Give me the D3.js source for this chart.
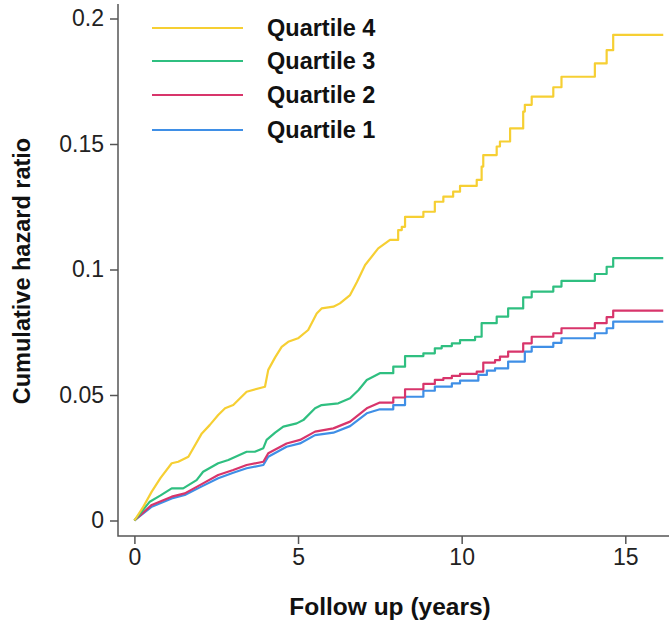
<!DOCTYPE html>
<html>
<head>
<meta charset="utf-8">
<script src="https://cdn.jsdelivr.net/npm/d3@7"></script>
<style>
  html, body { margin: 0; padding: 0; background: #fff; }
  svg { display: block; }
  .tick text { font-family: "Liberation Sans", Arial, sans-serif; font-size: 23px; fill: #222; }
  .title { font-family: "Liberation Sans", Arial, sans-serif; font-weight: bold; fill: #111; }
  .legend text { font-family: "Liberation Sans", Arial, sans-serif; font-weight: bold; font-size: 23.5px; fill: #111; }
</style>
</head>
<body>
<svg id="chart" width="669" height="630"></svg>
<script>
// ── Data ──────────────────────────────────────────────────────────────────

const seriesNames = ['Quartile 4', 'Quartile 3', 'Quartile 2', 'Quartile 1'];
const seriesColors = ['#f6cf33', '#2fbf80', '#d8356b', '#3f8fe6'];

const xTicks = [0, 5, 10, 15];
const yTicks = [0, 0.05, 0.1, 0.15, 0.2];
const yTickLabels = ['0', '0.05', '0.1', '0.15', '0.2'];

// [years, cumulative hazard]
const q4 = [
  [0, 0], [0.25, 0.005], [0.53, 0.0115], [0.8, 0.017], [1.14, 0.0228], [1.34, 0.0234], [1.65, 0.0254],
  [2.06, 0.0347], [2.3, 0.038], [2.56, 0.042], [2.77, 0.0447], [3.02, 0.046], [3.43, 0.0513],
  [3.99, 0.0533], [4.09, 0.06], [4.3, 0.065], [4.5, 0.0692], [4.7, 0.0712], [5.0, 0.0726],
  [5.31, 0.0759], [5.57, 0.0825], [5.72, 0.0845], [6.08, 0.0852], [6.28, 0.0865], [6.59, 0.0898],
  [6.8, 0.095], [7.05, 0.1018], [7.45, 0.1084], [7.81, 0.1118], [8.06, 0.1157], [8.17, 0.117],
  [8.27, 0.121], [8.83, 0.123], [9.18, 0.127], [9.44, 0.129], [9.74, 0.131], [9.95, 0.1333],
  [10.46, 0.1357], [10.61, 0.141], [10.66, 0.1456], [11.07, 0.149], [11.17, 0.151], [11.48, 0.1562],
  [11.88, 0.1629], [11.93, 0.1656], [12.14, 0.1689], [12.8, 0.1726], [13.05, 0.1768],
  [14.07, 0.1821], [14.43, 0.1874], [14.63, 0.1935], [16.16, 0.1935]
];
const q3 = [
  [0, 0], [0.47, 0.0075], [0.8, 0.01], [1.14, 0.0128], [1.49, 0.0128], [1.9, 0.0161], [2.1, 0.0194],
  [2.56, 0.0228], [2.87, 0.0241], [3.43, 0.0274], [3.68, 0.0274], [3.94, 0.0288], [4.04, 0.0321],
  [4.3, 0.035], [4.55, 0.0374], [4.96, 0.0387], [5.16, 0.04], [5.52, 0.0447], [5.72, 0.046],
  [6.23, 0.0467], [6.59, 0.0487], [6.85, 0.052], [7.1, 0.056], [7.5, 0.0587], [7.91, 0.0613],
  [8.27, 0.0655], [8.83, 0.0666], [9.18, 0.0686], [9.39, 0.0695], [9.7, 0.0706], [9.95, 0.0719],
  [10.41, 0.0732], [10.61, 0.0786], [11.07, 0.0812], [11.42, 0.0845], [11.88, 0.0889],
  [12.14, 0.0912], [12.8, 0.0932], [13.05, 0.0955], [14.07, 0.0982], [14.43, 0.1011],
  [14.63, 0.1045], [16.16, 0.1045]
];
const q2 = [
  [0, 0], [0.53, 0.0062], [1.14, 0.0095], [1.54, 0.0108], [2.0, 0.0141], [2.56, 0.0181],
  [3.02, 0.0201], [3.43, 0.0221], [3.94, 0.0234], [4.09, 0.0268], [4.65, 0.0307], [5.06, 0.0321],
  [5.52, 0.0354], [6.08, 0.0367], [6.59, 0.0394], [7.1, 0.0447], [7.5, 0.047], [7.91, 0.049],
  [8.27, 0.0523], [8.83, 0.0544], [9.18, 0.056], [9.44, 0.0567], [9.7, 0.0576], [9.95, 0.0584],
  [10.46, 0.0593], [10.66, 0.0629], [11.02, 0.0639], [11.17, 0.0653], [11.42, 0.0673],
  [11.88, 0.0706], [12.14, 0.0732], [12.8, 0.0746], [13.05, 0.0766], [14.07, 0.0786],
  [14.43, 0.081], [14.63, 0.0836], [16.16, 0.0836]
];
const q1 = [
  [0, 0], [0.53, 0.0055], [1.14, 0.0088], [1.54, 0.0102], [2.0, 0.0132], [2.56, 0.0168],
  [3.02, 0.019], [3.43, 0.0208], [3.94, 0.0221], [4.09, 0.0254], [4.65, 0.0294], [5.06, 0.0307],
  [5.52, 0.034], [6.08, 0.035], [6.59, 0.0376], [7.1, 0.0427], [7.5, 0.0443], [7.91, 0.046],
  [8.27, 0.0493], [8.83, 0.0517], [9.18, 0.0533], [9.7, 0.0546], [9.95, 0.0557], [10.51, 0.058],
  [10.77, 0.0597], [11.02, 0.0606], [11.42, 0.0633], [11.93, 0.0673], [12.14, 0.0692],
  [12.8, 0.0708], [13.05, 0.0726], [14.07, 0.0746], [14.43, 0.0766], [14.63, 0.0792],
  [16.16, 0.0792]
];
const seriesData = [q4, q3, q2, q1];

// early part has so many tiny steps it reads as a jagged line; steps show after this
const stepFrom = 7.5;

// ── Scales ─────────────────────────────────────────────────────────────────

const svg = d3.select('#chart');

const x = d3.scaleLinear().domain([0, 15]).range([134.4, 625.3]);
const y = d3.scaleLinear().domain([0, 0.2]).range([520.5, 18.5]);

const axisColor = '#555';

// ── Axes ───────────────────────────────────────────────────────────────────

const yAxis = svg.append('g')
  .attr('transform', 'translate(118,0)')
  .call(d3.axisLeft(y).tickValues(yTicks).tickFormat((d, i) => yTickLabels[i]).tickSize(8).tickPadding(6));
yAxis.select('.domain').remove();
yAxis.selectAll('.tick line').attr('stroke', axisColor).attr('stroke-width', 1.5);

const xAxis = svg.append('g')
  .attr('transform', 'translate(0,536)')
  .call(d3.axisBottom(x).tickValues(xTicks).tickSize(8).tickPadding(5));
xAxis.select('.domain').remove();
xAxis.selectAll('.tick line').attr('stroke', axisColor).attr('stroke-width', 1.5);

// frame lines (left + bottom)
svg.append('path')
  .attr('d', 'M118,4V536H669')
  .attr('fill', 'none')
  .attr('stroke', axisColor)
  .attr('stroke-width', 1.5);

// ── Lines ──────────────────────────────────────────────────────────────────

const lineEarly = d3.line()
  .x(d => x(d[0]))
  .y(d => y(d[1]))
  .curve(d3.curveLinear);

const lineLate = d3.line()
  .x(d => x(d[0]))
  .y(d => y(d[1]))
  .curve(d3.curveStepAfter);

// draw Q1 first so Q4 sits on top
seriesData.slice().reverse().forEach((data, ri) => {
  const i = seriesData.length - 1 - ri;
  const k = data.findIndex(d => d[0] >= stepFrom);
  const early = data.slice(0, k + 1);
  const late = data.slice(k);
  const path = lineEarly(early) + lineLate(late).replace(/^M/, 'L');
  svg.append('path')
    .attr('d', path)
    .attr('fill', 'none')
    .attr('stroke', seriesColors[i])
    .attr('stroke-width', 2.2)
    .attr('stroke-linejoin', 'round');
});

// ── Legend ─────────────────────────────────────────────────────────────────

const legend = svg.append('g').attr('class', 'legend');
const legendY = [28, 61, 95, 130];
seriesNames.forEach((name, i) => {
  legend.append('line')
    .attr('x1', 152).attr('x2', 243)
    .attr('y1', legendY[i]).attr('y2', legendY[i])
    .attr('stroke', seriesColors[i])
    .attr('stroke-width', 2.2);
  legend.append('text')
    .attr('x', 267).attr('y', legendY[i])
    .attr('dy', '0.36em')
    .text(name);
});

// ── Titles ─────────────────────────────────────────────────────────────────

svg.append('text')
  .attr('class', 'title')
  .attr('text-anchor', 'middle')
  .attr('font-size', 24.5)
  .attr('x', 390).attr('y', 615)
  .text('Follow up (years)');

svg.append('text')
  .attr('class', 'title')
  .attr('text-anchor', 'middle')
  .attr('font-size', 23.5)
  .attr('transform', 'translate(30,271) rotate(-90)')
  .text('Cumulative hazard ratio');
</script>
</body>
</html>
